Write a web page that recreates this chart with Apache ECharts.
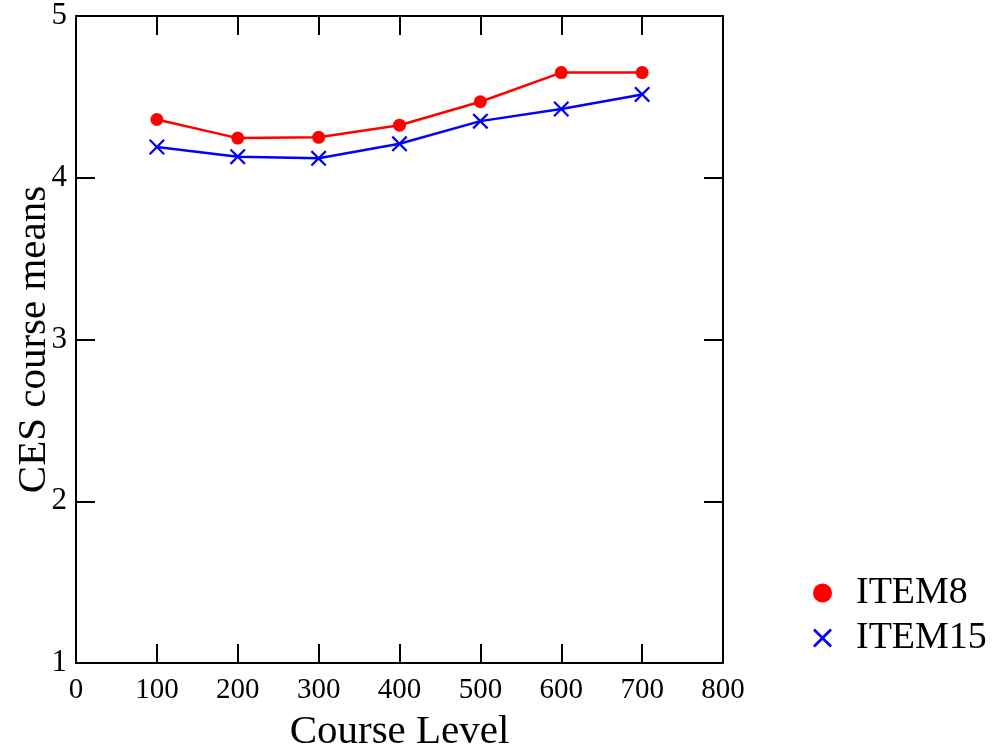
<!DOCTYPE html>
<html>
<head>
<meta charset="utf-8">
<script src="https://cdn.jsdelivr.net/npm/echarts@6/dist/echarts.min.js"></script>
<style>html,body{margin:0;padding:0;background:#fff;}#c{width:998px;height:756px;}</style>
</head>
<body>
<div id="c"></div>
<script>
var levels = [100, 200, 300, 400, 500, 600, 700];
var item8 = [4.36, 4.245, 4.25, 4.325, 4.47, 4.65, 4.65];
var item15 = [4.19, 4.13, 4.12, 4.21, 4.35, 4.425, 4.515];
var xTicks = [0, 100, 200, 300, 400, 500, 600, 700, 800];
var yTicks = [1, 2, 3, 4, 5];

var FONT = 'Liberation Serif';
var crossPath = 'path://M0.1,0 L0.5,0.4 L0.9,0 L1,0.1 L0.6,0.5 L1,0.9 L0.9,1 L0.5,0.6 L0.1,1 L0,0.9 L0.4,0.5 L0,0.1 Z';

function pairs(xs, ys) { return xs.map(function (x, i) { return [x, ys[i]]; }); }

var axisLine = { show: true, onZero: false, lineStyle: { color: '#000', width: 2 } };
var tick = { show: true, inside: true, length: 19, lineStyle: { color: '#000', width: 2 } };

var chart = echarts.init(document.getElementById('c'));
chart.setOption({
  animation: false,
  backgroundColor: '#fff',
  grid: { left: 76, right: 275, top: 16, bottom: 93, containLabel: false, outerBoundsMode: 'none' },
  xAxis: [
    { type: 'value', min: xTicks[0], max: xTicks[xTicks.length - 1], interval: 100,
      axisLine: axisLine, axisTick: tick, splitLine: { show: false },
      axisLabel: { fontFamily: FONT, fontSize: 29, color: '#000', margin: 13 },
      name: 'Course Level', nameLocation: 'middle', nameGap: 49, nameMoveOverlap: false,
      nameTextStyle: { fontFamily: FONT, fontSize: 41, color: '#000' } },
    { type: 'value', position: 'top', min: 0, max: 800, interval: 100,
      axisLine: axisLine, axisTick: tick, axisLabel: { show: false }, splitLine: { show: false } }
  ],
  yAxis: [
    { type: 'value', min: yTicks[0], max: yTicks[yTicks.length - 1], interval: 1,
      axisLine: axisLine, axisTick: tick, splitLine: { show: false },
      axisLabel: { fontFamily: FONT, fontSize: 31, color: '#000', margin: 9 },
      name: 'CES course means', nameLocation: 'middle', nameGap: 21, nameMoveOverlap: false,
      nameTextStyle: { fontFamily: FONT, fontSize: 41, color: '#000' } },
    { type: 'value', position: 'right', min: 1, max: 5, interval: 1,
      axisLine: axisLine, axisTick: tick, axisLabel: { show: false }, splitLine: { show: false } }
  ],
  legend: {
    orient: 'vertical', left: 808, top: 569, itemWidth: 19, itemHeight: 19, itemGap: 7,
    textStyle: { fontFamily: FONT, fontSize: 38, color: '#000', padding: [0, 0, 0, 19] },
    data: [
      { name: 'ITEM8', icon: 'circle', itemStyle: { color: '#ff0000' } },
      { name: 'ITEM15', icon: crossPath, itemStyle: { color: '#0000ff' } }
    ]
  },
  series: [
    { name: 'ITEM8', type: 'line', data: pairs(levels, item8),
      symbol: 'circle', symbolSize: 13,
      itemStyle: { color: '#ff0000' }, lineStyle: { color: '#ff0000', width: 2.5 } },
    { name: 'ITEM15', type: 'line', data: pairs(levels, item15),
      symbol: crossPath, symbolSize: 16,
      itemStyle: { color: '#0000ff' }, lineStyle: { color: '#0000ff', width: 2.5 } }
  ]
});
</script>
</body>
</html>
